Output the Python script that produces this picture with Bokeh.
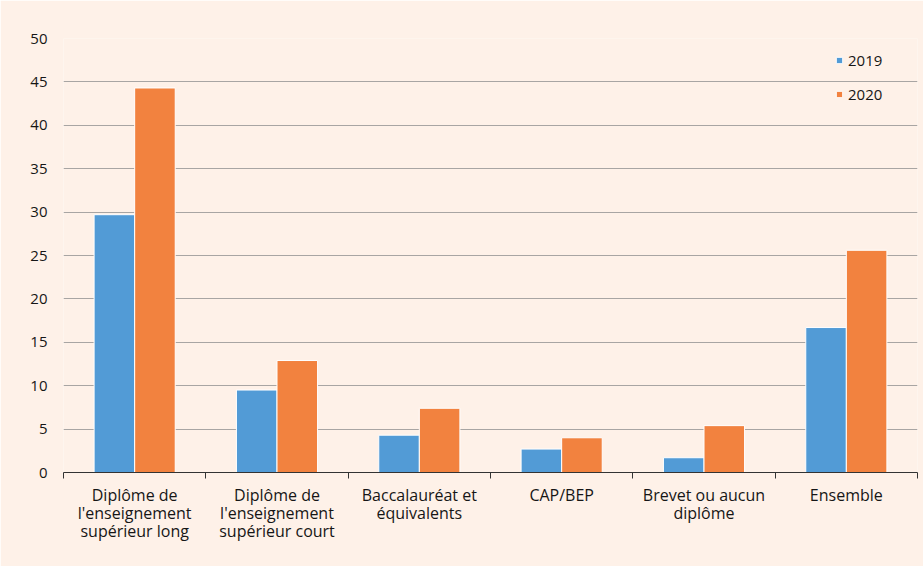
from bokeh.plotting import figure
from bokeh.models import ColumnDataSource, FixedTicker, Legend, LegendItem
from bokeh.embed import file_html
from bokeh.resources import INLINE

categories = ["Diplôme de\nl'enseignement\nsupérieur long",
              "Diplôme de\nl'enseignement\nsupérieur court",
              "Baccalauréat et\néquivalents",
              "CAP/BEP",
              "Brevet ou aucun\ndiplôme",
              "Ensemble"]
series_names = ["2019", "2020"]
values_2019 = [29.7, 9.5, 4.3, 2.7, 1.7, 16.7]
values_2020 = [44.3, 12.9, 7.4, 4.0, 5.4, 25.6]
y_ticks = [0, 5, 10, 15, 20, 25, 30, 35, 40, 45, 50]

BG = "#fef1e8"
BLUE = "#529bd6"
ORANGE = "#f2823f"
FONT = "Open Sans"
TXT = "#161616"

n = len(categories)
centers = [i + 0.5 for i in range(n)]
off = 0.1425
w = 0.285

p = figure(width=923, height=566, x_range=(0, n), y_range=(0, 50),
           output_backend="svg", toolbar_location=None,
           min_border_left=63, min_border_right=6, min_border_top=38, min_border_bottom=94)
p.background_fill_color = BG
p.border_fill_color = BG
p.outline_line_color = None

src1 = ColumnDataSource(dict(x=[c - off for c in centers], top=values_2019))
src2 = ColumnDataSource(dict(x=[c + off for c in centers], top=values_2020))
r1 = p.vbar(x="x", top="top", width=w, bottom=0, source=src1, fill_color=BLUE, line_color="white", line_width=1)
r2 = p.vbar(x="x", top="top", width=w, bottom=0, source=src2, fill_color=ORANGE, line_color="white", line_width=1)

# x axis
p.xaxis.ticker = FixedTicker(ticks=centers, minor_ticks=list(range(n + 1)))
p.xaxis.major_label_overrides = {c: lab for c, lab in zip(centers, categories)}
p.xaxis.major_tick_out = 0
p.xaxis.major_tick_in = 0
p.xaxis.minor_tick_out = 6
p.xaxis.minor_tick_in = 0
p.xaxis.minor_tick_line_color = "#333333"
p.xaxis.axis_line_color = "#333333"
p.xaxis.axis_line_width = 1.2
p.xaxis.major_label_text_font = FONT
p.xaxis.major_label_text_font_size = "16px"
p.xaxis.major_label_text_line_height = 0.82
p.xaxis.major_label_text_color = TXT
p.xaxis.major_label_standoff = 5

# y axis
p.yaxis.ticker = FixedTicker(ticks=y_ticks)
p.yaxis.axis_line_color = None
p.yaxis.major_tick_line_color = None
p.yaxis.minor_tick_line_color = None
p.yaxis.major_label_text_font = FONT
p.yaxis.major_label_text_font_size = "15px"
p.yaxis.major_label_text_color = TXT
p.yaxis.major_label_standoff = 10

p.xgrid.grid_line_color = None
p.ygrid.grid_line_color = "#a8a5a3"
p.ygrid.grid_line_width = 1

legend = Legend(items=[LegendItem(label=series_names[0], renderers=[r1]),
                       LegendItem(label=series_names[1], renderers=[r2])],
                location=(772, 368))
legend.background_fill_alpha = 0
legend.border_line_color = None
legend.glyph_width = 8
legend.glyph_height = 8
legend.label_height = 20
legend.label_text_font = FONT
legend.label_text_font_size = "15px"
legend.label_text_color = TXT
legend.spacing = 14
legend.margin = 0
legend.padding = 4
legend.label_standoff = 5
p.add_layout(legend)

open("out.html", "w").write(file_html(p, INLINE))
